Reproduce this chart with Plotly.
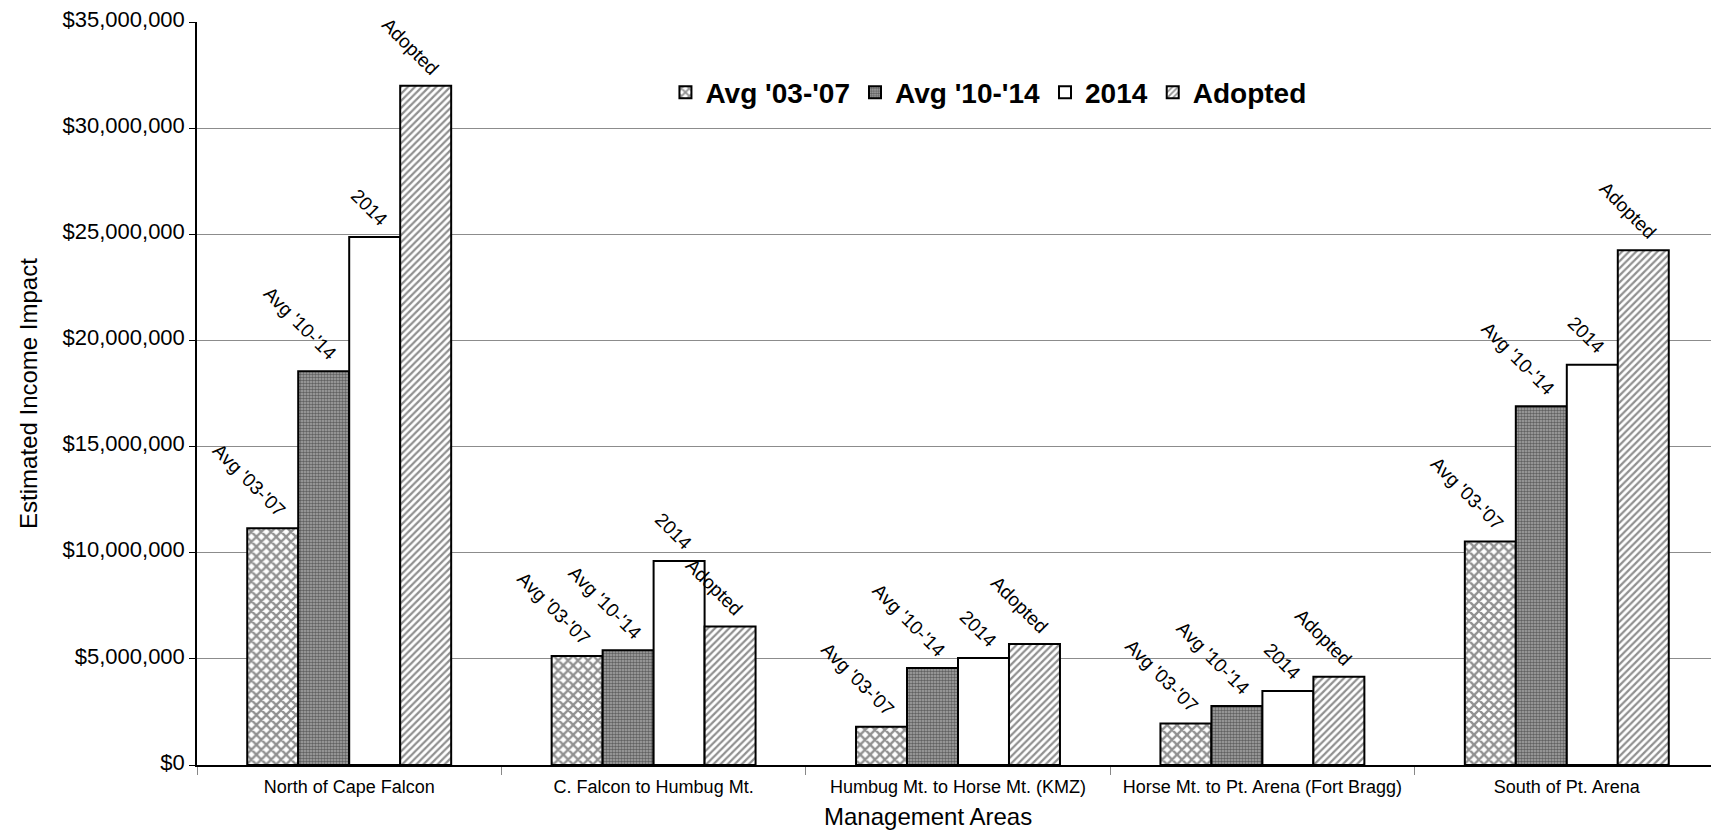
import plotly.graph_objects as go

categories = ["North of Cape Falcon", "C. Falcon to Humbug Mt.", "Humbug Mt. to Horse Mt. (KMZ)",
              "Horse Mt. to Pt. Arena (Fort Bragg)", "South of Pt. Arena"]
series_names = ["Avg '03-'07", "Avg '10-'14", "2014", "Adopted"]
avg_03_07 = [11150000, 5140000, 1800000, 1950000, 10530000]
avg_10_14 = [18550000, 5400000, 4570000, 2780000, 16900000]
y2014 = [24870000, 9610000, 5040000, 3490000, 18860000]
adopted = [32000000, 6530000, 5700000, 4160000, 24250000]
y_tickvals = [0, 5000000, 10000000, 15000000, 20000000, 25000000, 30000000, 35000000]
y_ticktext = ["$0", "$5,000,000", "$10,000,000", "$15,000,000", "$20,000,000",
              "$25,000,000", "$30,000,000", "$35,000,000"]
x_title = "Management Areas"
y_title = "Estimated Income Impact"

values = [avg_03_07, avg_10_14, y2014, adopted]
patterns = [
    dict(shape="x", fgcolor="#222222", bgcolor="#ffffff", size=7, solidity=0.55),
    dict(shape=".", fgcolor="#1a1a1a", bgcolor="#a8a8a8", size=3, solidity=0.55),
    dict(shape="", fgcolor="#000000", bgcolor="#ffffff"),
    dict(shape="/", fgcolor="#222222", bgcolor="#ffffff", size=5, solidity=0.45),
]

FONT = "Liberation Sans, Arial, sans-serif"
bargap = 0.33
xs = list(range(len(categories)))

fig = go.Figure()
for name, vals, pat in zip(series_names, values, patterns):
    fig.add_trace(go.Bar(
        x=xs, y=vals, name=name,
        marker=dict(color="#ffffff", pattern=pat, line=dict(color="#000000", width=2)),
    ))

w = (1 - bargap) / len(series_names)
annotations = []
for j, (name, vals) in enumerate(zip(series_names, values)):
    for i, v in enumerate(vals):
        annotations.append(dict(
            x=i + (j - 1.5) * w, y=v, xref="x", yref="y",
            text=name, showarrow=False, textangle=45,
            xanchor="right", yanchor="bottom", xshift=20, yshift=4,
            font=dict(family=FONT, size=19, color="#000000"),
        ))
annotations.append(dict(
    text=x_title, xref="paper", yref="paper", x=0.48, y=0, yshift=-51,
    xanchor="center", yanchor="middle", showarrow=False,
    font=dict(family=FONT, size=24, color="#000000"),
))

fig.update_layout(
    width=1711, height=823,
    barmode="group", bargap=bargap, bargroupgap=0,
    plot_bgcolor="#ffffff", paper_bgcolor="#ffffff",
    margin=dict(l=189, r=0, t=14, b=66, autoexpand=False),
    font=dict(family=FONT, color="#000000"),
    showlegend=True,
    legend=dict(orientation="h", x=0.52, y=0.905, xanchor="center", yanchor="middle",
                font=dict(family=FONT, size=28, color="#000000", weight="bold"),
                itemwidth=30, bgcolor="rgba(0,0,0,0)"),
    annotations=annotations,
    xaxis=dict(
        range=[-0.5, len(categories) - 0.5],
        tickvals=xs, ticktext=categories,
        ticks="outside", ticklen=4, tickcolor="rgba(0,0,0,0)",
        tickfont=dict(family=FONT, size=18, color="#000000"),
        showline=True, linecolor="#000000", linewidth=2,
        showgrid=False, zeroline=False,
        minor=dict(tick0=0.5, dtick=1, ticks="outside", ticklen=8, tickcolor="#888888", showgrid=False),
    ),
    yaxis=dict(
        range=[0, 35000000],
        tickvals=y_tickvals, ticktext=y_ticktext,
        ticks="outside", ticklen=6, tickcolor="#000000",
        tickfont=dict(family=FONT, size=22, color="#000000"),
        ticklabeloverflow="allow", ticklabelshift=-3,
        showline=True, linecolor="#000000", linewidth=1.5,
        showgrid=True, gridcolor="#8c8c8c", gridwidth=1,
        zeroline=False,
        title=dict(text=y_title, font=dict(family=FONT, size=24, color="#000000"), standoff=18),
    ),
)

fig.write_html("out.html")
